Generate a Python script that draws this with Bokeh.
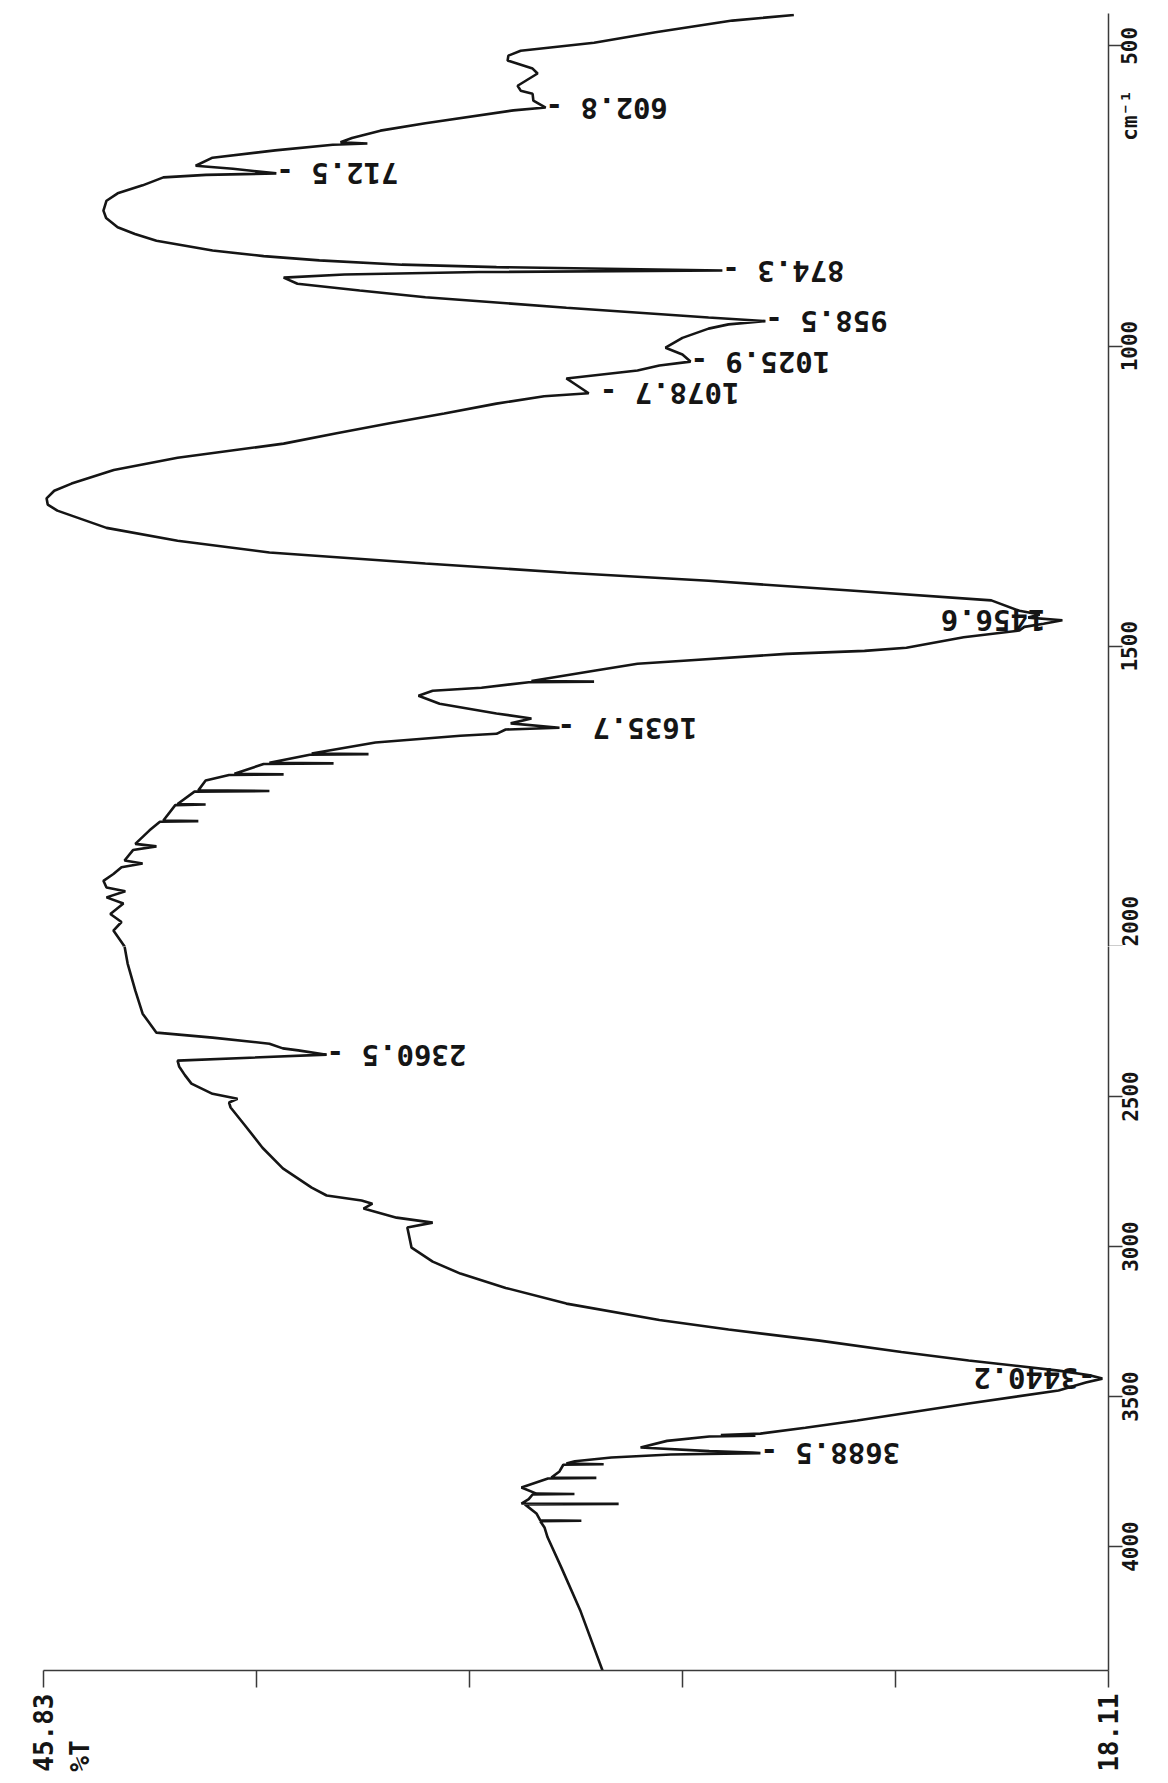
import math
from bokeh.plotting import figure
from bokeh.layouts import column
from bokeh.models import Range1d, FixedTicker
from bokeh.core.properties import value
from bokeh.embed import file_html
from bokeh.resources import INLINE

# ---- spectrum data (wavenumber in cm-1, transmittance in %T) ----
wavenumber = [
    448.8, 458.0, 477.5, 494.9, 508.2, 516.4, 524.6, 537.9, 546.1, 566.5, 574.7, 579.9,
    591.1, 602.8, 607.5, 629.0, 641.3, 653.6, 660.7, 662.8, 664.8, 674.1, 686.3, 699.7,
    704.8, 712.5, 715.0, 719.1, 732.4, 745.7, 758.0, 774.4, 786.7, 802.1, 813.3, 824.6,
    841.0, 850.2, 857.4, 864.5, 868.6, 874.3, 876.8, 880.9, 886.0, 896.3, 907.5, 918.8,
    936.2, 952.6, 958.5, 963.9, 971.0, 986.4, 1002.8, 1014.0, 1025.9, 1032.5, 1040.7,
    1054.0, 1063.2, 1078.7, 1083.7, 1095.9, 1112.3, 1128.7, 1145.1, 1162.5, 1186.1,
    1206.5, 1229.1, 1241.0, 1253.6, 1264.0, 1274.1, 1302.8, 1324.3, 1343.8, 1362.2,
    1377.5, 1390.9, 1407.2, 1423.6, 1441.0, 1447.2, 1452.3, 1456.6, 1462.5, 1467.7,
    1473.8, 1485.1, 1502.5, 1507.6, 1512.7, 1524.0, 1529.1, 1540.4, 1557.8, 1558.8,
    1559.8, 1569.0, 1574.2, 1582.3, 1595.7, 1612.0, 1620.2, 1628.4, 1635.7, 1638.7,
    1645.8, 1648.9, 1660.2, 1678.6, 1679.6, 1680.6, 1694.0, 1695.0, 1696.0, 1712.4,
    1713.4, 1714.4, 1723.7, 1740.0, 1741.0, 1742.0, 1762.6, 1763.6, 1764.6, 1790.2,
    1791.2, 1792.2, 1806.6, 1829.1, 1833.2, 1839.4, 1856.8, 1861.9, 1868.0, 1879.3,
    1890.6, 1901.8, 1908.0, 1918.2, 1928.5, 1945.9, 1959.2, 1973.5, 2000.0,
    2056.9, 2147.2, 2223.9, 2287.1, 2303.6, 2324.0, 2339.5, 2346.3, 2360.5, 2380.3,
    2399.7, 2428.8, 2457.0, 2491.0, 2507.5, 2520.1, 2536.6, 2593.9, 2670.7, 2739.6,
    2803.7, 2829.9, 2846.5, 2857.1, 2873.6, 2903.7, 2920.3, 2936.8, 3003.8, 3050.4,
    3090.2, 3137.8, 3190.2, 3244.6, 3276.7, 3313.6, 3351.5, 3379.6, 3413.6, 3429.2,
    3440.2, 3453.4, 3479.7, 3523.4, 3579.7, 3604.0, 3623.4, 3628.3, 3630.2, 3633.1,
    3647.7, 3670.0, 3681.7, 3686.5, 3688.5, 3693.3, 3703.0, 3715.7, 3723.4, 3725.4,
    3727.3, 3749.6, 3770.0, 3771.0, 3772.9, 3803.1, 3823.5, 3824.5, 3826.4, 3841.9,
    3856.5, 3857.5, 3859.4, 3889.5, 3912.8, 3913.8, 3915.7, 3936.1, 3969.1, 4070.1,
    4215.8, 4413.0,
]
transmittance = [
    26.30, 27.90, 29.90, 31.50, 33.41, 33.73, 33.75, 33.10, 32.97, 33.49, 33.41, 33.10,
    33.08, 32.76, 33.60, 35.89, 37.06, 37.80, 38.10, 37.40, 38.30, 39.80, 41.43, 41.87,
    40.90, 39.77, 41.60, 42.71, 43.25, 43.90, 44.19, 44.27, 44.20, 43.90, 43.45, 42.89,
    41.43, 40.10, 38.65, 36.50, 34.04, 28.16, 34.50, 38.00, 39.58, 39.22, 37.60, 35.89,
    32.22, 28.52, 27.04, 28.00, 28.52, 29.20, 29.64, 29.20, 28.99, 29.80, 30.37,
    32.22, 32.00, 31.64, 32.80, 34.04, 35.40, 36.82, 38.20, 39.58, 42.34,
    44.00, 45.10, 45.55, 45.75, 45.72, 45.47, 44.19, 42.34, 39.95, 35.89,
    32.22, 28.52, 24.83, 21.16, 20.43, 19.90, 20.20, 19.31, 19.80, 20.30,
    20.43, 21.88, 23.37, 24.46, 26.49, 29.17, 30.37, 31.46, 33.13, 31.50,
    33.20, 34.43, 35.70, 36.07, 35.52, 34.04, 33.13, 33.67, 32.40, 33.80,
    34.04, 34.98, 37.19, 38.85, 37.37, 38.90, 39.95, 38.28, 40.10, 40.86,
    39.58, 41.00, 41.61, 41.80, 39.95, 41.90, 42.34, 41.61, 42.40, 42.71,
    41.80, 42.80, 43.07, 43.44, 42.89, 43.50, 43.72, 43.25, 43.80, 44.01,
    44.27, 44.19, 43.70, 44.19, 43.75, 44.09, 43.80, 44.01, 43.72,
    43.64, 43.44, 43.25, 42.89, 41.43, 39.95, 39.60, 39.20, 38.46, 42.34,
    42.30, 42.15, 41.98, 41.43, 40.78, 41.00, 40.96, 40.60, 40.13, 39.60,
    38.85, 38.46, 37.55, 37.27, 37.50, 36.64, 35.70, 36.36, 36.25, 35.70,
    34.98, 33.80, 32.22, 29.80, 28.00, 25.63, 23.50, 21.75, 19.41, 18.60,
    18.27, 18.70, 19.41, 21.75, 24.65, 26.00, 27.17, 28.20, 27.30, 28.50,
    29.60, 30.29, 28.50, 27.38, 27.17, 29.50, 31.05, 32.00, 32.22, 31.25,
    32.30, 32.40, 32.61, 31.44, 32.70, 33.39, 33.00, 32.01, 33.10, 33.20,
    33.39, 30.86, 33.30, 33.00, 32.90, 31.83, 32.90, 32.79, 32.71, 32.35,
    31.85, 31.28,
]

# ---- labelled peaks (label text, wavenumber, label anchor in %T) ----
peak_text_low = ["602.8 -", "712.5 -", "874.3 -", "958.5 -", "1025.9 -", "1078.7 -", "1635.7 -"]
peak_wn_low = [602.8, 712.5, 874.3, 958.5, 1025.9, 1078.7, 1635.7]
peak_t_low = [32.76, 39.77, 28.16, 27.04, 28.99, 31.35, 32.45]

peak_text_low_in = ["1456.6"]
peak_wn_low_in = [1456.6]
peak_t_low_in = [19.75]

peak_text_high = ["2360.5 -", "3688.5 -"]
peak_wn_high = [2360.5, 3688.5]
peak_t_high = [38.46, 27.17]

peak_text_high_in = ["-3440.2"]
peak_wn_high_in = [3440.2]
peak_t_high_in = [18.45]

# ---- axis ticks and tick labels ----
t_min, t_max = 18.11, 45.83
t_tick_marks = [45.83, 40.29, 34.74, 29.2, 23.65, 18.11]
t_label_ticks = [45.83, 44.89, 18.11]
t_tick_labels = {45.83: "45.83", 44.89: "%T\u00a0\u00a0\u00a0", 18.11: "18.11"}

wn_ticks_low = [500, 1000, 1500, 2000]
wn_labels_low = ["500", "1000", "1500", "2000"]
wn_unit_pos = 616
wn_unit_label = "cm\u207b\u00b9"
wn_ticks_high = [2500, 3000, 3500, 4000]
wn_labels_high = ["2500", "3000", "3500", "4000"]

wn_low_top, wn_split, wn_high_bottom = 446.2, 2000, 4413
FRAME_W, FRAME_H_LOW, FRAME_H_HIGH = 1065, 933, 724

FONT = "DejaVu Sans Mono"
INK = "#151515"
AXIS = "#3a3a3a"
WN_FONT_PX = 21
MONO_ADVANCE = 0.602  # advance width of DejaVu Sans Mono, in em

xr = Range1d(start=t_max, end=t_min)


def centred_label_ticks(ticks, labels, px_per_unit, limit):
    """Bokeh starts a bottom-to-top label at its tick; shift each anchor down
    by half the label's length so the text is centred on its tick mark."""
    pos, overrides = [], {}
    for t, lab in zip(ticks, labels):
        p = t + len(lab) * MONO_ADVANCE * WN_FONT_PX / 2 / px_per_unit
        if p > limit:
            p = t
        p = round(p, 3)
        pos.append(p)
        overrides[p] = lab
    return pos, overrides


def make_fig(y_start, y_end, frame_h, border_top, border_bottom, show_x):
    p = figure(
        frame_width=FRAME_W, frame_height=frame_h,
        x_range=xr, y_range=Range1d(start=y_start, end=y_end),
        x_axis_location="below" if show_x else None,
        y_axis_location="right",
        min_border_left=43, min_border_right=52,
        min_border_top=border_top, min_border_bottom=border_bottom,
        toolbar_location=None, output_backend="svg",
    )
    p.outline_line_color = None
    p.grid.visible = False
    p.background_fill_color = "white"
    p.border_fill_color = "white"
    ya = p.yaxis[0]
    ya.axis_line_color = AXIS
    ya.axis_line_width = 1.5
    ya.major_tick_line_color = None
    ya.major_tick_in = 0
    ya.major_tick_out = 14
    ya.minor_tick_line_color = AXIS
    ya.minor_tick_line_width = 1.5
    ya.minor_tick_in = 0
    ya.minor_tick_out = 14
    ya.major_label_orientation = math.pi / 2
    ya.major_label_standoff = 8
    ya.major_label_text_font = FONT
    ya.major_label_text_font_size = f"{WN_FONT_PX}px"
    ya.major_label_text_font_style = "bold"
    ya.major_label_text_color = INK
    p.line(x=transmittance, y=wavenumber, line_color=INK, line_width=2.6)
    return p


ppu_low = FRAME_H_LOW / (wn_split - wn_low_top)
ppu_high = FRAME_H_HIGH / (wn_high_bottom - wn_split)

top = make_fig(wn_split, wn_low_top, FRAME_H_LOW, 13, 0, False)
lab_pos_low, lab_over_low = centred_label_ticks(
    wn_ticks_low + [wn_unit_pos], wn_labels_low + [wn_unit_label], ppu_low, wn_split)
top.yaxis[0].ticker = FixedTicker(ticks=sorted(lab_pos_low), minor_ticks=wn_ticks_low)
top.yaxis[0].major_label_overrides = lab_over_low

bottom = make_fig(wn_high_bottom, wn_split, FRAME_H_HIGH, 0, 105, True)
lab_pos_high, lab_over_high = centred_label_ticks(
    wn_ticks_high, wn_labels_high, ppu_high, wn_high_bottom)
bottom.yaxis[0].ticker = FixedTicker(ticks=lab_pos_high, minor_ticks=wn_ticks_high)
bottom.yaxis[0].major_label_overrides = lab_over_high

xa = bottom.xaxis[0]
xa.ticker = FixedTicker(ticks=t_label_ticks, minor_ticks=t_tick_marks)
xa.major_label_overrides = t_tick_labels
xa.axis_line_color = AXIS
xa.axis_line_width = 1.5
xa.major_tick_line_color = None
xa.major_tick_in = 0
xa.major_tick_out = 17
xa.minor_tick_line_color = AXIS
xa.minor_tick_line_width = 1.5
xa.minor_tick_in = 0
xa.minor_tick_out = 17
xa.major_label_orientation = math.pi / 2
xa.major_label_standoff = 6
xa.major_label_text_font = FONT
xa.major_label_text_font_size = "26px"
xa.major_label_text_font_style = "bold"
xa.major_label_text_color = INK

text_kw = dict(angle=math.pi, text_baseline="middle", text_font=value(FONT),
               text_font_size="29px", text_font_style="bold", text_color=INK)

top.text(x=peak_t_low, y=peak_wn_low, text=peak_text_low, text_align="right", **text_kw)
top.text(x=peak_t_low_in, y=peak_wn_low_in, text=peak_text_low_in, text_align="left", **text_kw)
bottom.text(x=peak_t_high, y=peak_wn_high, text=peak_text_high, text_align="right", **text_kw)
bottom.text(x=peak_t_high_in, y=peak_wn_high_in, text=peak_text_high_in, text_align="left", **text_kw)

layout = column(top, bottom, spacing=0)
open("out.html", "w").write(file_html(layout, INLINE))
